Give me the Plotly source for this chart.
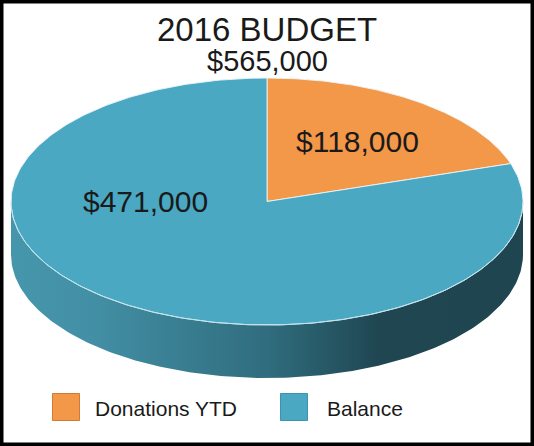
import numpy as np
import plotly.graph_objects as go

# ---- data ----
title_text = "2016 BUDGET"
total_label = "$565,000"
categories = ["Donations YTD", "Balance"]
values = [118000, 471000]
value_labels = ["$118,000", "$471,000"]

# ---- style / layout ----
W, H = 534, 446
colors = ["#F39749", "#4AA8C3"]
side_scales = [
    [[0, "#c9772f"], [1, "#8a4f1c"]],
    [[0, "#4596ac"], [0.15, "#4390a6"], [0.5, "#306d7e"], [0.72, "#1f4651"], [1, "#1f4550"]],
]
CX, CY, A, B, DEPTH = 267, 201.5, 256, 123.5, 53
label_pos = [(36, 0.6), (270, 0.475)]  # (angle clockwise from top, radius fraction)
FONT = "Liberation Sans, Arial, sans-serif"
TXT = "#1a1a1a"


def pt(t_deg, r=1.0):
    t = np.radians(t_deg)
    return CX + r * A * np.sin(t), CY - r * B * np.cos(t)


fig = go.Figure()
fractions = np.array(values, dtype=float) / sum(values)
ends = np.cumsum(fractions) * 360
starts = np.concatenate([[0], ends[:-1]])

# side walls (front half only)
for s, e, sc in zip(starts, ends, side_scales):
    lo, hi = max(s, 90), min(e, 270)
    if hi <= lo:
        continue
    t = np.linspace(lo, hi, 200)
    xt, yt = pt(t)
    xs = np.concatenate([xt, xt[::-1], xt[:1]])
    ys = np.concatenate([yt, yt[::-1] + DEPTH, yt[:1]])
    fig.add_trace(go.Scatter(
        x=xs, y=ys, fill="toself", mode="lines", line=dict(width=0),
        fillgradient=dict(type="horizontal", colorscale=sc),
        hoverinfo="skip", showlegend=False))

# top faces
for s, e, c in zip(starts, ends, colors):
    t = np.linspace(s, e, 300)
    xt, yt = pt(t)
    xs = np.concatenate([[CX], xt, [CX]])
    ys = np.concatenate([[CY], yt, [CY]])
    fig.add_trace(go.Scatter(
        x=xs, y=ys, fill="toself", mode="lines", fillcolor=c,
        line=dict(width=1, color="rgba(235,245,248,0.9)"),
        hoverinfo="skip", showlegend=False))

# rim highlight on the front edge
t = np.linspace(90, 270, 200)
xt, yt = pt(t)
fig.add_trace(go.Scatter(x=xt, y=yt, mode="lines",
                         line=dict(width=1, color="rgba(190,225,235,0.9)"),
                         hoverinfo="skip", showlegend=False))

# value labels
for (ang, rf), lab in zip(label_pos, value_labels):
    x, y = pt(ang, rf)
    fig.add_annotation(x=x, y=y, text=lab, showarrow=False,
                       font=dict(size=30, color=TXT, family=FONT),
                       xanchor="center", yanchor="middle")

# legend squares + texts
leg_x = [66, 294]
leg_dx = [27, 31]
leg_y = 407
fig.add_trace(go.Scatter(x=leg_x, y=[leg_y] * 2, mode="markers",
                         marker=dict(symbol="square", size=27, color=colors,
                                     line=dict(width=1, color=["#d07a35", "#3d93ab"])),
                         hoverinfo="skip", showlegend=False))
for lx, dx, cat in zip(leg_x, leg_dx, categories):
    fig.add_annotation(x=lx + dx, y=leg_y + 1, text=cat, showarrow=False,
                       font=dict(size=21, color=TXT, family=FONT),
                       xanchor="left", yanchor="middle")

# title
fig.add_annotation(x=CX, y=29, text=title_text, showarrow=False,
                   font=dict(size=33, color=TXT, family=FONT),
                   xanchor="center", yanchor="middle")
fig.add_annotation(x=CX, y=61, text=total_label, showarrow=False,
                   font=dict(size=29, color=TXT, family=FONT),
                   xanchor="center", yanchor="middle")

# frame
fig.add_shape(type="rect", xref="paper", yref="paper", x0=0, y0=0, x1=1, y1=1,
              line=dict(color="black", width=7), layer="above")

fig.update_layout(
    width=W, height=H, margin=dict(l=0, r=0, t=0, b=0),
    paper_bgcolor="white", plot_bgcolor="white",
    xaxis=dict(range=[0, W], visible=False, fixedrange=True),
    yaxis=dict(range=[H, 0], visible=False, fixedrange=True),
    showlegend=False,
)
fig.write_html("out.html", config={"displayModeBar": False},
               post_script="document.body.style.margin='0';document.body.style.overflow='hidden';")
